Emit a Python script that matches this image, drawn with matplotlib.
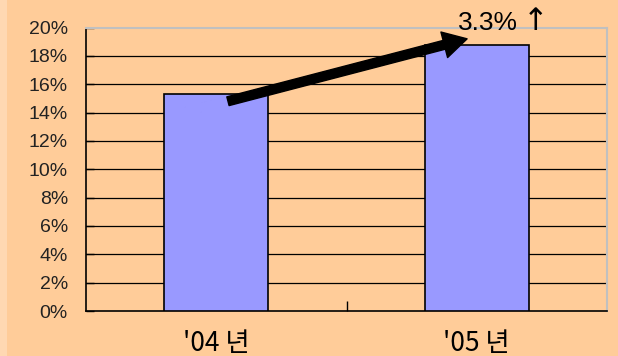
import matplotlib.pyplot as plt
from matplotlib.patches import Rectangle

# data
categories = ["'04 년", "'05 년"]
rates = [15.3, 18.8]
y_ticks = [0, 2, 4, 6, 8, 10, 12, 14, 16, 18, 20]
growth_label = "3.3%"

BG = "#FFCC99"
BAR = "#9999FF"

fig = plt.figure(figsize=(6.18, 3.56), dpi=100, facecolor=BG)
# light strip along the left edge
fig.patches.append(Rectangle((0, 0), 7 / 618, 1, transform=fig.transFigure,
                             facecolor="#FFD8B2", edgecolor="none", zorder=0))

ax = fig.add_axes([86 / 618, 45 / 356, 521 / 618, 283.5 / 356])
ax.set_facecolor(BG)

x = range(len(categories))
ax.bar(x, rates, width=0.4, color=BAR, edgecolor="black", linewidth=1.2, zorder=3)

# horizontal grid lines
for v in y_ticks[1:-1]:
    ax.axhline(v, color="black", linewidth=0.9, zorder=1)

ax.set_xlim(-0.5, 1.5)
ax.set_ylim(0, 20)
ax.set_yticks(y_ticks)
ax.set_yticklabels([f"{v}%" for v in y_ticks], fontsize=14,
                   family="Liberation Sans", color="#222222")
ax.tick_params(axis="y", direction="in", length=6, width=1, pad=13, color="black")

ax.set_xticks(list(x))
ax.set_xticklabels(categories, fontsize=19, family="Noto Sans CJK KR",
                   fontweight="medium")
ax.tick_params(axis="x", length=0, pad=14)
ax.set_xticks([0.5], minor=True)
ax.tick_params(axis="x", which="minor", direction="in", length=7, width=1)

for side in ["left", "bottom"]:
    ax.spines[side].set_color("black")
    ax.spines[side].set_linewidth(1.2)
for side in ["top", "right"]:
    ax.spines[side].set_color("#C0C0C0")
    ax.spines[side].set_linewidth(1.5)

# growth arrow between the two bars
ax.annotate("", xy=(0.963, 19.2), xytext=(0.045, 14.8),
            arrowprops=dict(facecolor="black", edgecolor="black", width=6.5,
                            headwidth=19, headlength=17, shrink=0),
            zorder=5, annotation_clip=False)
ax.text(1.045, 20.35, growth_label, fontsize=19, ha="center", va="center",
        family="Liberation Sans", clip_on=False, zorder=6)
ax.text(1.225, 20.45, "\u2191", fontsize=22, ha="center", va="center",
        family="DejaVu Sans", clip_on=False, zorder=6)

fig.savefig("out.png", dpi=100, facecolor=BG)
